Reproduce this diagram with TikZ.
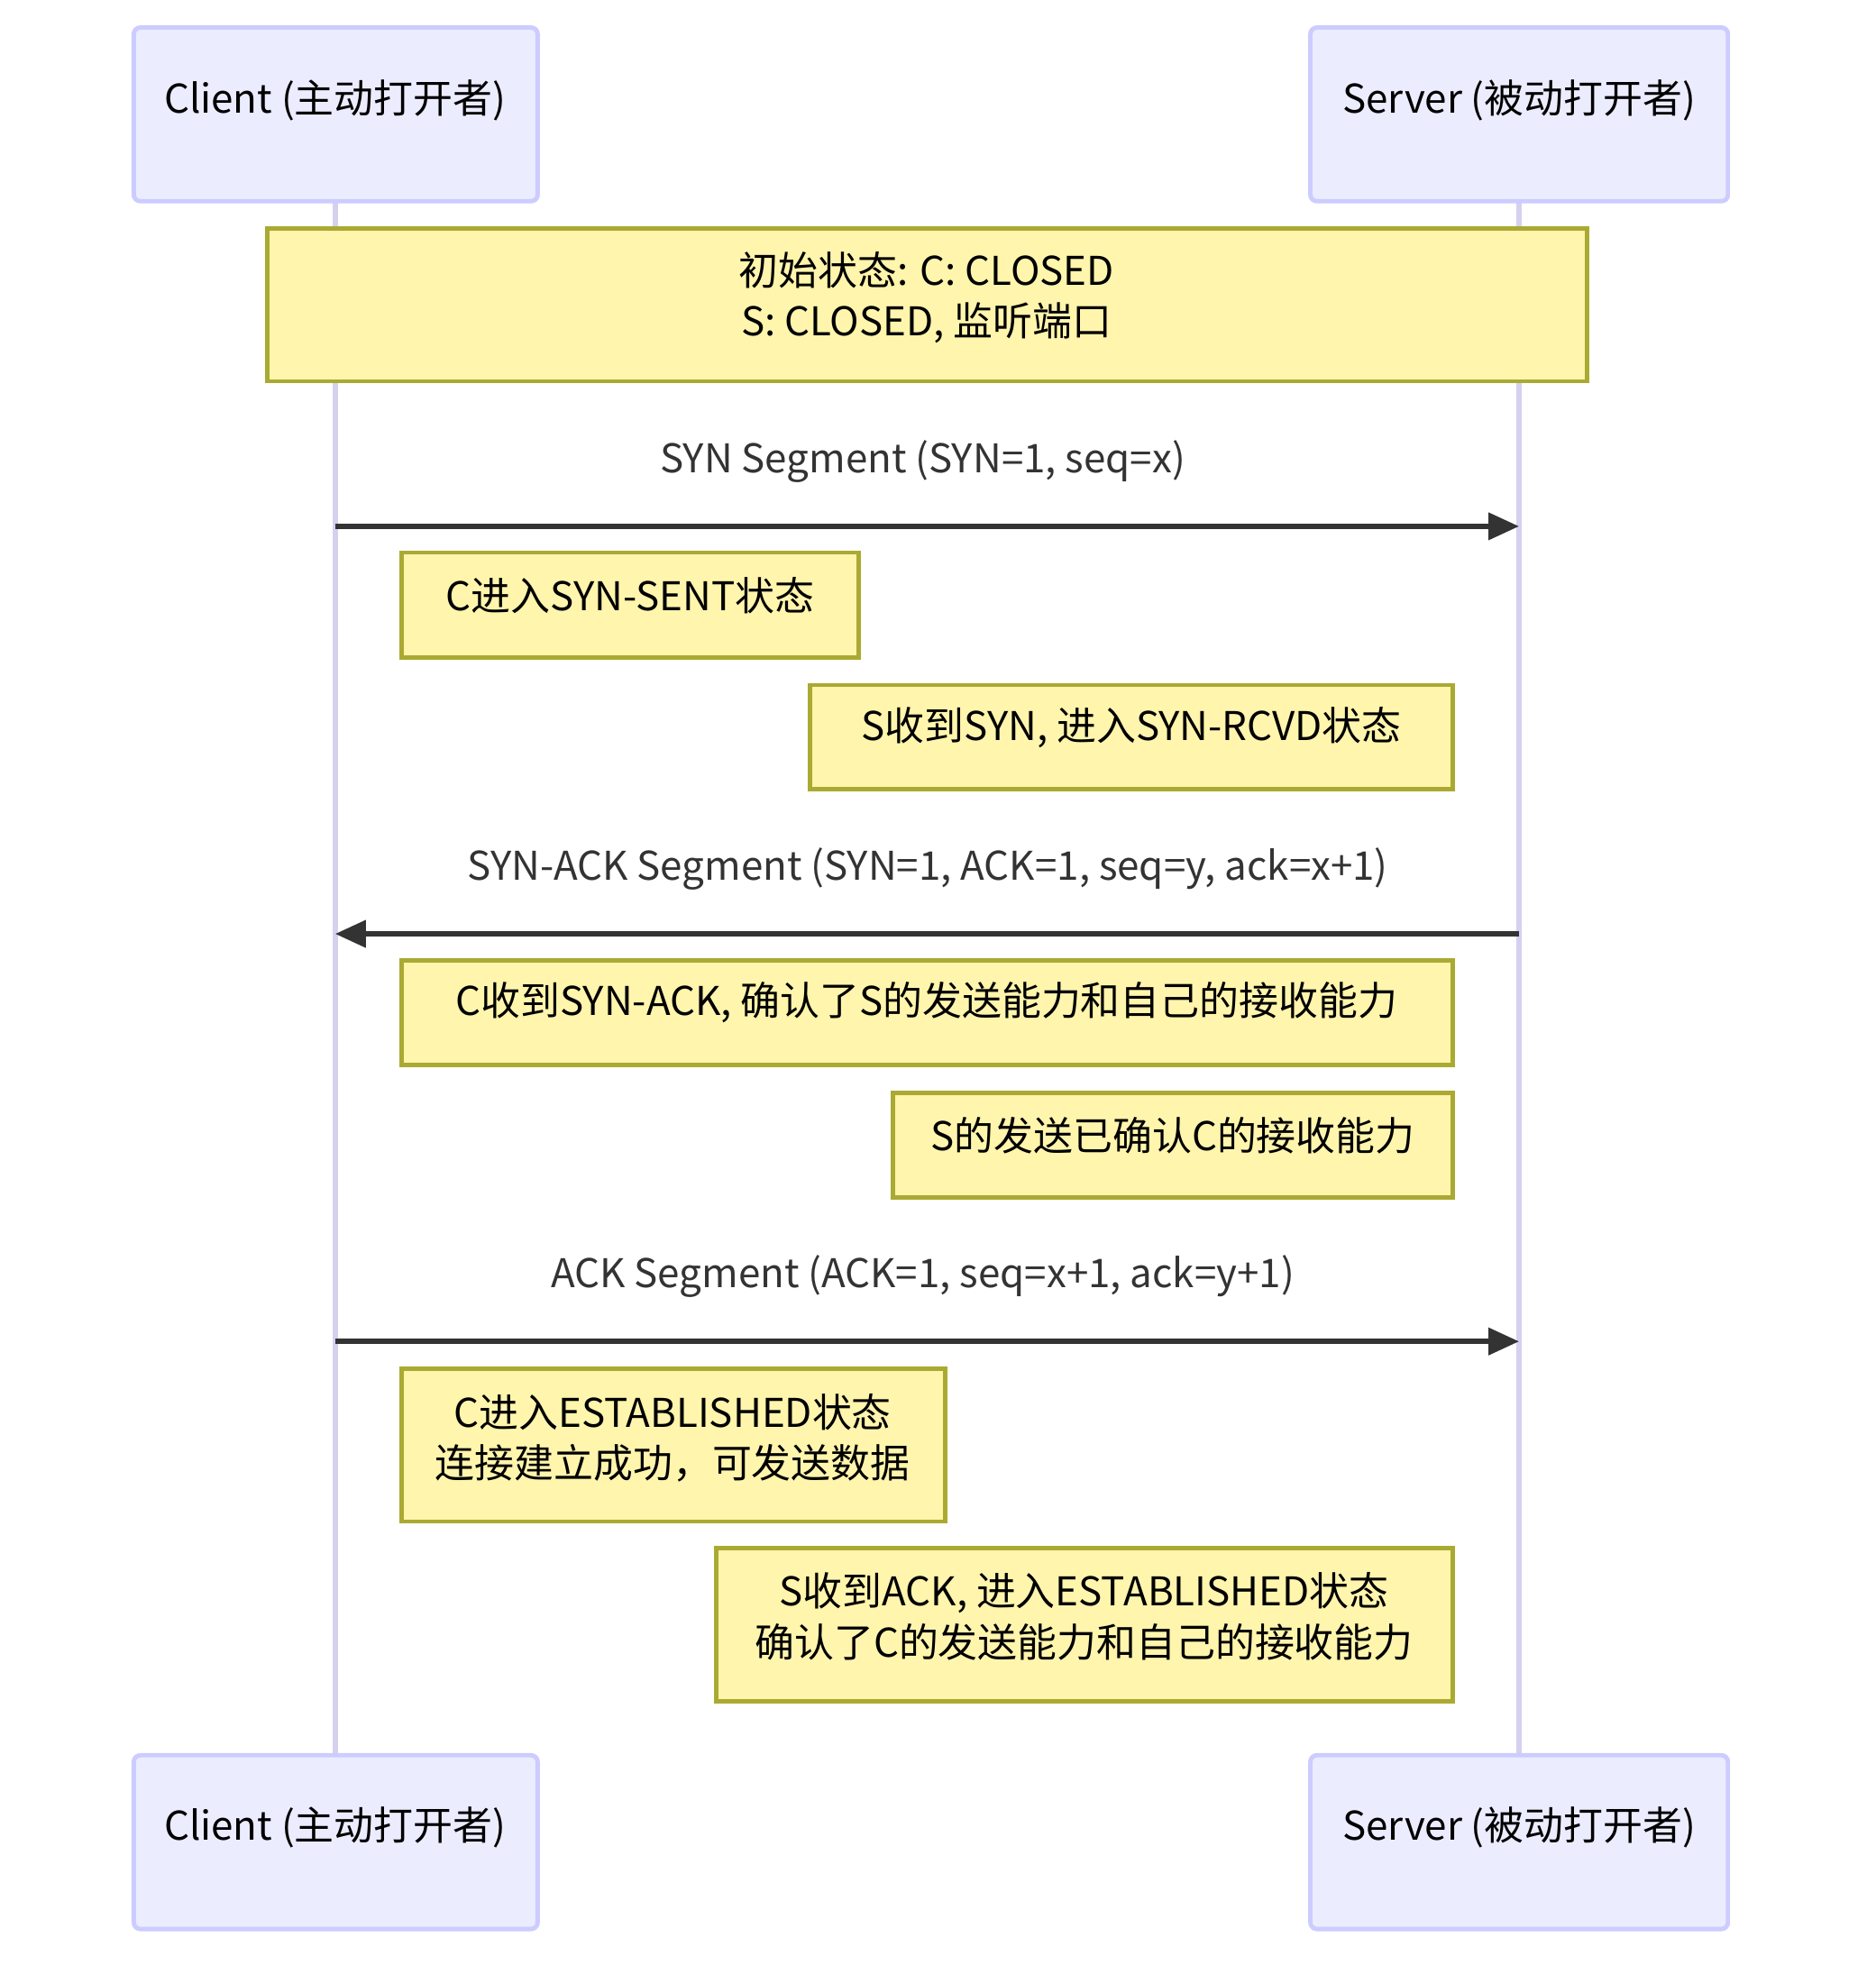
\documentclass[tikz,border=0pt]{standalone}
\usepackage{fontspec}
\setmainfont{Noto Sans CJK SC}
\usetikzlibrary{arrows.meta}
\definecolor{actf}{HTML}{ECECFF}
\definecolor{acts}{HTML}{CCCCFF}
\definecolor{life}{HTML}{D6D0F0}
\definecolor{notef}{HTML}{FFF5AD}
\definecolor{notes}{HTML}{AAAA33}
\definecolor{msg}{HTML}{333333}
\begin{document}
\begin{tikzpicture}[x=0.01cm,y=-0.01cm,
  actor/.style={draw=acts,fill=actf,line width=1pt,rounded corners=1.5pt},
  note/.style={draw=notes,fill=notef,line width=1pt},
  txt/.style={font=\fontsize{9}{11.5}\selectfont,align=center,text=black},
  mtxt/.style={font=\fontsize{9}{11.5}\selectfont,text=msg},
  msgline/.style={draw=msg,line width=1.3pt,-{Triangle[length=7pt,width=6pt]}},
  lifeline/.style={draw=life,line width=1.3pt}]
\useasboundingbox (0,0) rectangle (1500,1579);
% lifelines
\coordinate (cT) at (268,161); \coordinate (cB) at (268,1404);
\coordinate (sT) at (1215,161); \coordinate (sB) at (1215,1404);
\draw[lifeline] (cT) -- (cB);
\draw[lifeline] (sT) -- (sB);
% actors
\draw[actor] (107,22) rectangle (430,161);
\node[txt] (c1) at (268,80) {Client (主动打开者)};
\draw[actor] (1048,22) rectangle (1382,161);
\node[txt] (s1) at (1215,80) {Server (被动打开者)};
\draw[actor] (107,1404) rectangle (430,1543);
\node[txt] (c2) at (268,1462) {Client (主动打开者)};
\draw[actor] (1048,1404) rectangle (1382,1543);
\node[txt] (s2) at (1215,1462) {Server (被动打开者)};
% notes
\draw[note] (214,183) rectangle (1269,305);
\node[txt] (n1) at (741,238) {初始状态: C: CLOSED\\S: CLOSED, 监听端口};
\draw[note] (321,442) rectangle (687,526);
\node[txt] (n2) at (504,476) {C进入SYN-SENT状态};
\draw[note] (648,548) rectangle (1162,631);
\node[txt] (n3) at (905,582) {S收到SYN, 进入SYN-RCVD状态};
\draw[note] (321,768) rectangle (1162,852);
\node[txt] (n4) at (741,802) {C收到SYN-ACK, 确认了S的发送能力和自己的接收能力};
\draw[note] (714,874) rectangle (1162,958);
\node[txt] (n5) at (938,908) {S的发送已确认C的接收能力};
\draw[note] (321,1095) rectangle (756,1217);
\node[txt] (n6) at (538,1150) {C进入ESTABLISHED状态\\连接建立成功，可发送数据};
\draw[note] (573,1238) rectangle (1162,1361);
\node[txt] (n7) at (867,1293) {S收到ACK, 进入ESTABLISHED状态\\确认了C的发送能力和自己的接收能力};
% messages
\coordinate (m1a) at (268,421); \coordinate (m1b) at (1215,421);
\node[mtxt] (l1) at (738,369) {SYN Segment (SYN=1, seq=x)};
\draw[msgline] (m1a) -- (m1b);
\coordinate (m2a) at (1215,747); \coordinate (m2b) at (268,747);
\node[mtxt] (l2) at (742,695) {SYN-ACK Segment (SYN=1, ACK=1, seq=y, ack=x+1)};
\draw[msgline] (m2a) -- (m2b);
\coordinate (m3a) at (268,1073); \coordinate (m3b) at (1215,1073);
\node[mtxt] (l3) at (738,1021) {ACK Segment (ACK=1, seq=x+1, ack=y+1)};
\draw[msgline] (m3a) -- (m3b);
\end{tikzpicture}
\end{document}
